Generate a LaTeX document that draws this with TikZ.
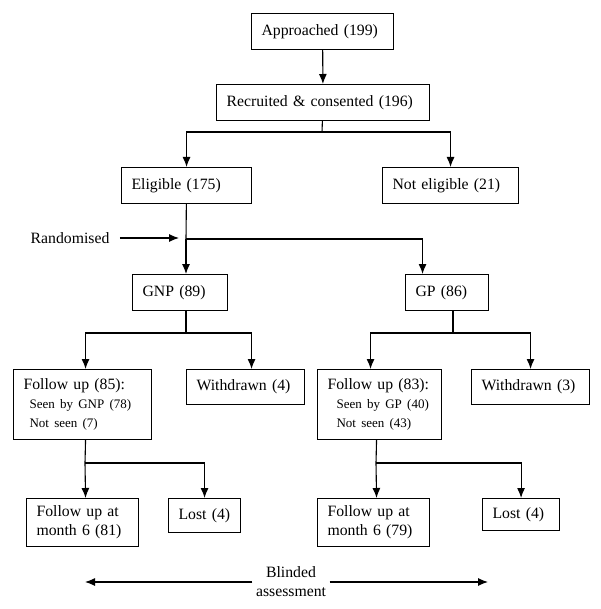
\documentclass[tikz,border=0pt]{standalone}
\usepackage{fontspec}
\setmainfont{Liberation Serif}
\usetikzlibrary{shapes,arrows,arrows.meta,positioning}
\newcommand{\boxfont}{\fontsize{15.75}{19}\selectfont}
\newcommand{\subfont}{\fontsize{13}{15}\selectfont}

\begin{document}
\begin{tikzpicture}[x=1pt, y=-1pt, line width=1.1pt, >={Latex[length=10pt,width=8pt]},
  box/.style={draw, anchor=north west, align=left, inner xsep=10pt, inner ysep=0pt, font=\boxfont}]
\useasboundingbox (0,0) rectangle (600,609);

\node[box, text width=122pt, minimum height=36pt] (appr) at (251,13) {Approached (199)};
\node[box, text width=193pt, minimum height=36pt] (recr) at (216,84) {Recruited \& consented (196)};

\node[box, text width=110pt, minimum height=36pt] (elig) at (121,167) {Eligible (175)};
\node[box, text width=116pt, minimum height=36pt] (nelig) at (382,167) {Not eligible (21)};

\node[font=\boxfont, inner xsep=10pt] (rnd) at (70,238) {Randomised};

\node[box, text width=75pt, minimum height=36pt] (gnp) at (132,274) {GNP (89)};
\node[box, text width=63pt, minimum height=36pt] (gp) at (405,274) {GP (86)};

\node[box, text width=118pt, minimum height=70pt] (fua) at (13,369)
  {Follow up (85):\\[4pt]\subfont\hspace*{6pt}Seen by GNP (78)\\\hspace*{6pt}Not seen (7)};
\node[box, text width=98pt, minimum height=35pt] (wda) at (186,369) {Withdrawn (4)};
\node[box, text width=104pt, minimum height=70pt] (fub) at (317,369)
  {Follow up (83):\\[4pt]\subfont\hspace*{9pt}Seen by GP (40)\\\hspace*{9pt}Not seen (43)};
\node[box, text width=98pt, minimum height=35pt] (wdb) at (471,369) {Withdrawn (3)};

\node[box, text width=92pt, minimum height=48pt] (m6a) at (26,498) {Follow up at\\month 6 (81)};
\node[box, text width=52pt, minimum height=34pt] (losta) at (168,498) {Lost (4)};
\node[box, text width=92pt, minimum height=48pt] (m6b) at (317,498) {Follow up at\\month 6 (79)};
\node[box, text width=57pt, minimum height=32pt] (lostb) at (482,498) {Lost (4)};

\node[font=\boxfont, align=center, inner xsep=3pt] (blind) at (291,582) {Blinded\\assessment};

\coordinate (split1) at (322,132);
\coordinate (split2) at (186,239);
\coordinate (split3) at (186,333);
\coordinate (split4) at (453,333);
\coordinate (split5) at (85,463);
\coordinate (split6) at (376,463);
\coordinate (bla) at (85,582);
\coordinate (blb) at (488,582);

\draw[->] (appr) -- (recr);
\draw (recr) -- (split1);
\draw[->] (split1) -| (elig);
\draw[->] (split1) -| (nelig);

\draw (elig) -- (split2);
\draw[->, shorten >=7pt] (rnd.east) -- (rnd.east -| split2);
\draw[->] (split2) -- (split2 |- gnp.north);
\draw[->] (split2) -| ([xshift=-24.5pt]gp.north);

\draw (gnp.south -| split3) -- (split3);
\draw[->] (split3) -| ([xshift=3pt]fua.north);
\draw[->] (split3) -| ([xshift=6pt]wda.north);
\draw (gp.south -| split4) -- (split4);
\draw[->] (split4) -| ([xshift=-9pt]fub.north);
\draw[->] (split4) -| (wdb);

\draw ([xshift=3pt]fua.south) -- (split5);
\draw[->] (split5) -- ([xshift=3pt]m6a.north);
\draw[->] (split5) -| (losta);
\draw ([xshift=-3pt]fub.south) -- (split6);
\draw[->] (split6) -- ([xshift=3pt]m6b.north);
\draw[->] (split6) -| (lostb);

\draw[->] (blind.west) -- (bla);
\draw[->] (blind.east) -- (blb);

\end{tikzpicture}
\end{document}
